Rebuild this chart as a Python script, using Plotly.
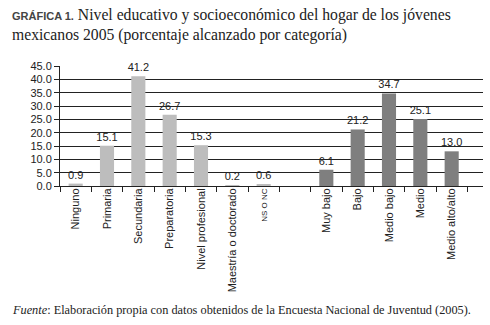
import plotly.graph_objects as go

edu_labels = ["Ninguno", "Primaria", "Secundaria", "Preparatoria", "Nivel profesional",
              "Maestría o doctorado", "NS O NC"]
edu_values = [0.9, 15.1, 41.2, 26.7, 15.3, 0.2, 0.6]
socio_labels = ["Muy bajo", "Bajo", "Medio bajo", "Medio", "Medio alto/alto"]
socio_values = [6.1, 21.2, 34.7, 25.1, 13.0]
y_ticks = [0, 5, 10, 15, 20, 25, 30, 35, 40, 45]

EDU_COLOR = "#bdbdbd"
SOCIO_COLOR = "#7f7f7f"
SERIF = "Liberation Serif, Times New Roman, serif"

gap = " "
cats = edu_labels + [gap] + socio_labels
vals = edu_values + [None] + socio_values
colors = [EDU_COLOR] * len(edu_labels) + [EDU_COLOR] + [SOCIO_COLOR] * len(socio_labels)
ticktext = [("<span style='font-size:8px'>NS O NC</span>" if c == "NS O NC" else c) for c in cats]

fig = go.Figure()
fig.add_trace(go.Bar(
    x=cats, y=vals, marker=dict(color=colors, line=dict(width=0)),
    width=0.45,
    text=[("" if v is None else f"{v:.1f}") for v in vals],
    textposition="outside", constraintext="none",
    textfont=dict(family="Liberation Sans", size=11, color="#222"),
    cliponaxis=False, showlegend=False, hoverinfo="skip",
))

fig.update_layout(
    width=490, height=325,
    margin=dict(l=60, r=7, t=66, b=139),
    paper_bgcolor="white", plot_bgcolor="white",
    font=dict(family="Liberation Sans", size=11, color="#222"),
    xaxis=dict(
        type="category", categoryorder="array", categoryarray=cats,
        tickvals=cats, ticktext=ticktext,
        tickson="boundaries", ticks="outside", ticklen=5, tickcolor="#222", tickwidth=1,
        tickangle=-90, showgrid=False, ticklabelstandoff=-3,
        showline=True, linecolor="#222", linewidth=1,
        range=[-0.5, 13.0], fixedrange=True, automargin=False,
    ),
    yaxis=dict(
        range=[0, 45], tickvals=y_ticks, tickformat=".1f",
        ticks="outside", ticklen=5, tickcolor="#222",
        showgrid=True, gridcolor="#222", gridwidth=1,
        showline=True, linecolor="#222", linewidth=1,
        zeroline=False, automargin=False, fixedrange=True,
    ),
    annotations=[
        dict(
            text="<span style='font-family:Liberation Sans;font-size:11px;font-weight:bold;color:#444'>GRÁFICA 1.</span> "
                 "Nivel educativo y socioeconómico del hogar de los jóvenes<br>"
                 "mexicanos 2005 (porcentaje alcanzado por categoría)",
            xref="paper", yref="paper", x=-50 / 423, y=1 + (66 - 4) / 120,
            xanchor="left", yanchor="top", align="left", showarrow=False,
            font=dict(family=SERIF, size=15.7, color="#222"),
        ),
        dict(
            text="<i>Fuente</i>: Elaboración propia con datos obtenidos de la Encuesta Nacional de Juventud (2005).",
            xref="paper", yref="paper", x=-50 / 423, y=(186 - 310) / 120,
            xanchor="left", yanchor="middle", showarrow=False,
            font=dict(family=SERIF, size=12.3, color="#222"),
        ),
    ],
)

fig.write_html("out.html", config={"displayModeBar": False},
               post_script="document.body.style.margin='0';")
